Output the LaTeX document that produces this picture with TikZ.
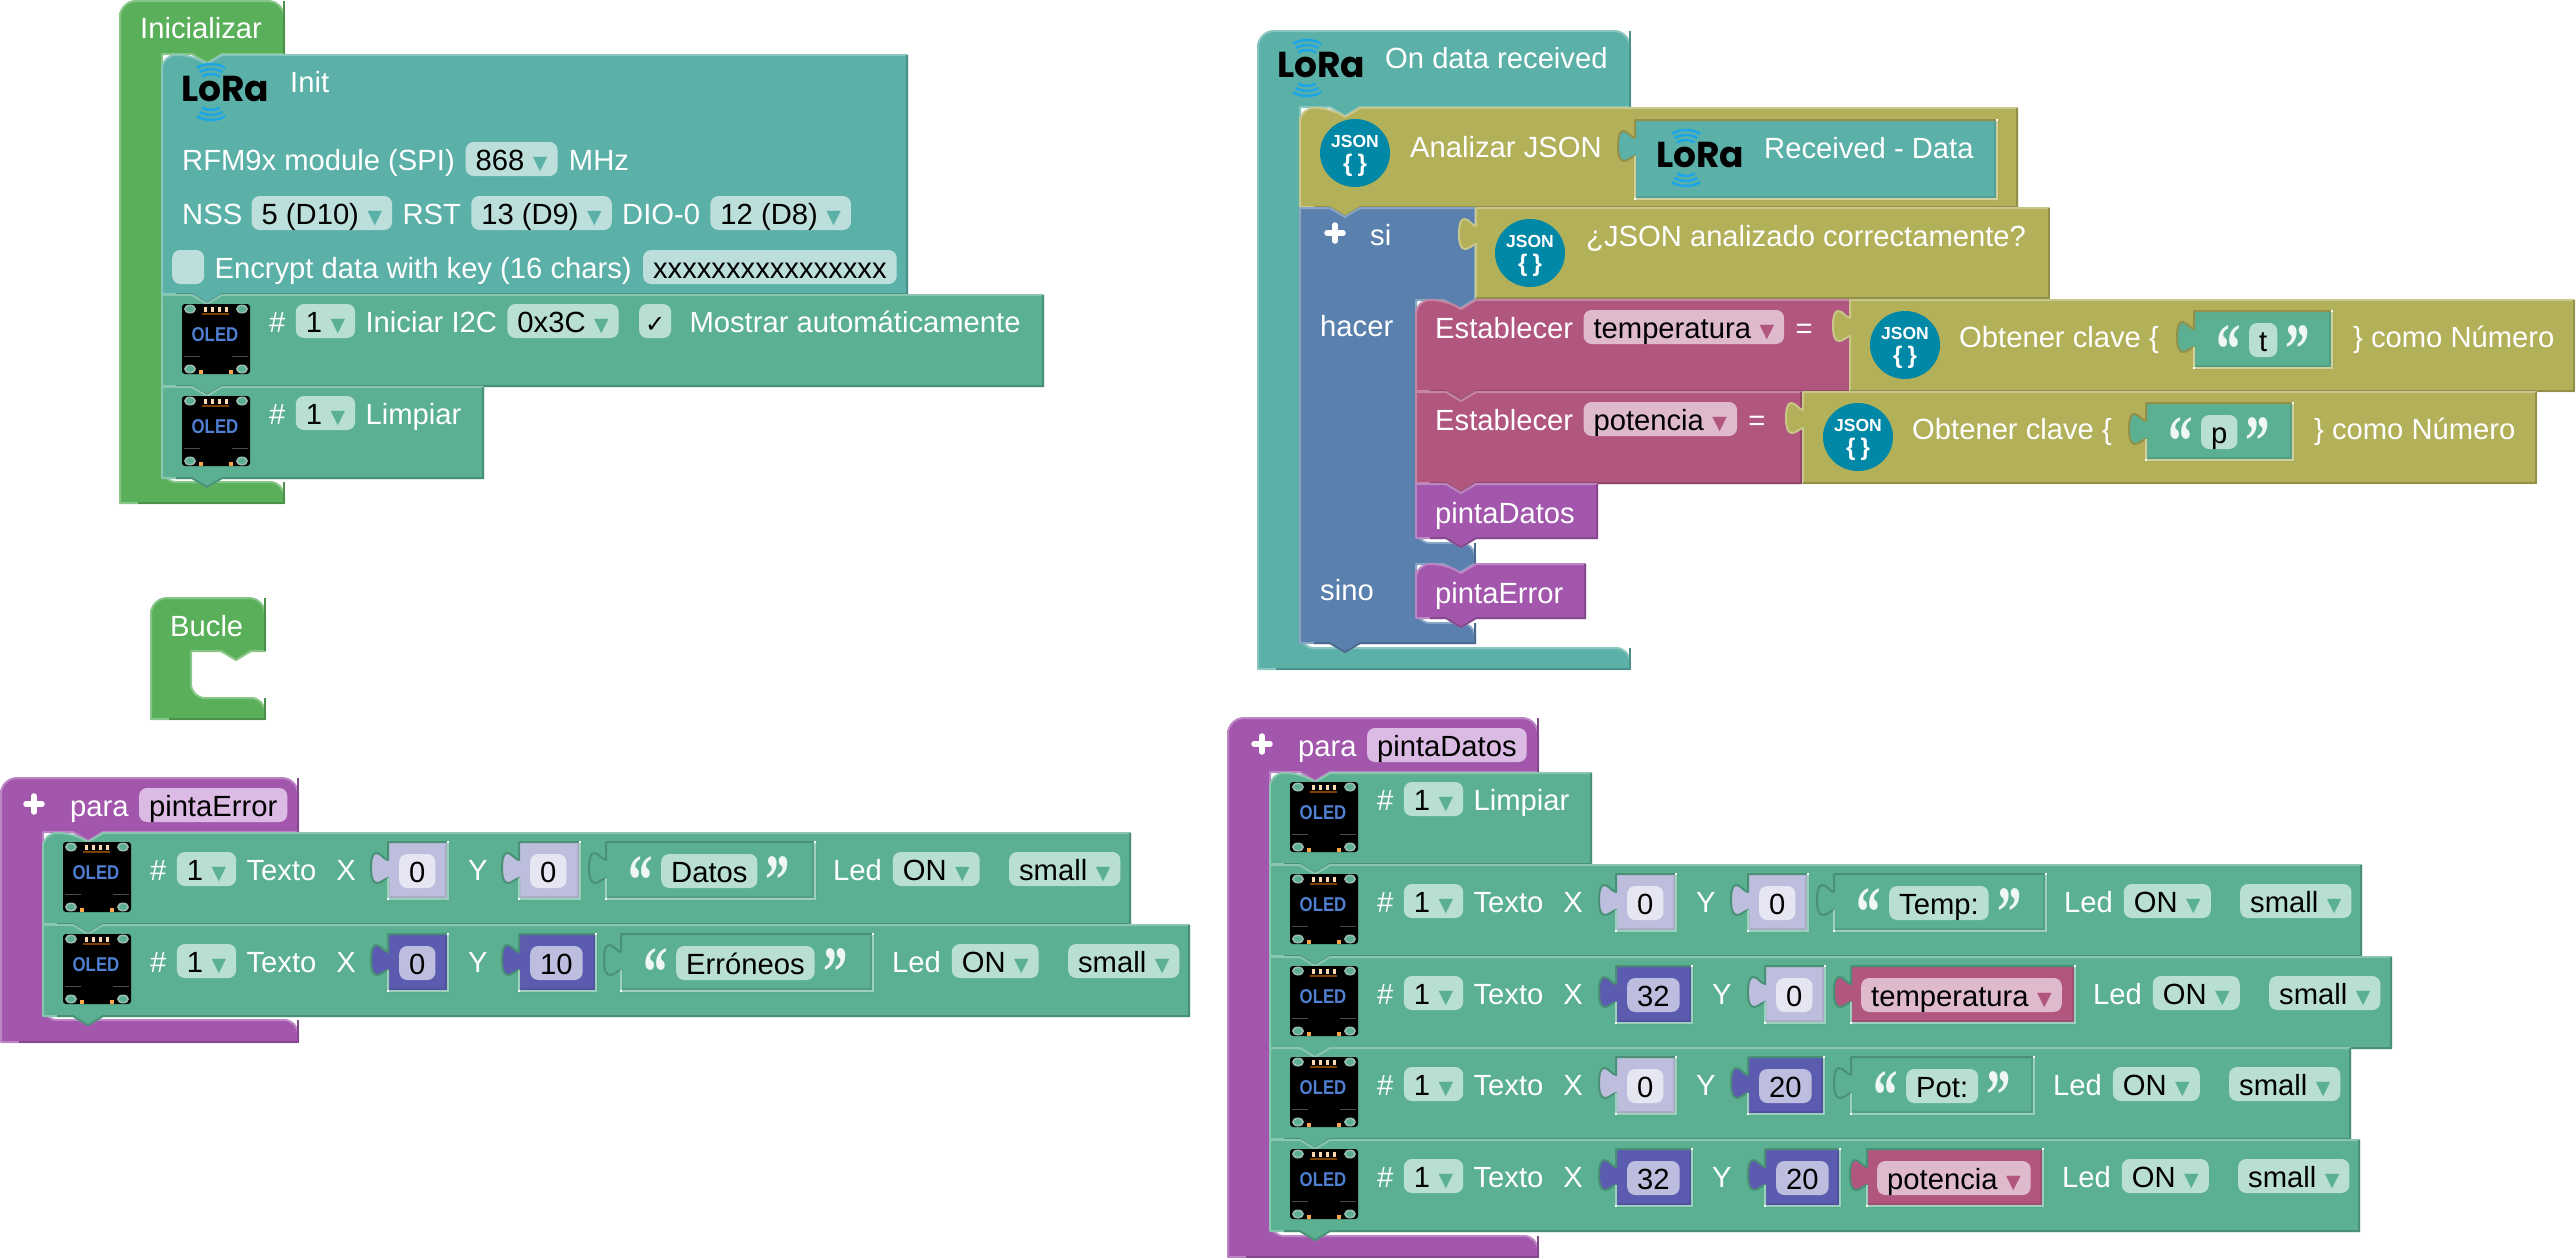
\documentclass[tikz,border=0pt]{standalone}
\usepackage{fontspec}
\usepackage{graphicx}
\usepackage{xcolor}
\usetikzlibrary{positioning}
\setmainfont{Liberation Sans}
\newfontfamily\glyphfont{DejaVu Sans}
\newfontfamily\logofont{Poppins}
\newfontfamily\quotefont{Liberation Serif}

\definecolor{hatgreen}{HTML}{5AB05A}
\definecolor{loratal}{HTML}{5BB0A8}
\definecolor{rowgreen}{HTML}{5AB091}
\definecolor{procpurple}{HTML}{A257AD}
\definecolor{varpink}{HTML}{B0567F}
\definecolor{ifblue}{HTML}{5A80AE}
\definecolor{jsonolive}{HTML}{B3B05A}
\definecolor{numlbody}{HTML}{BDBEDD}
\definecolor{numlfield}{HTML}{E6E6F3}
\definecolor{numdbody}{HTML}{5B5BB0}
\definecolor{numdfield}{HTML}{BDBDDF}
\definecolor{tealfield}{HTML}{BCDFDB}
\definecolor{rowfield}{HTML}{B9DFD1}
\definecolor{procfield}{HTML}{DBBBE3}
\definecolor{pinkfield}{HTML}{DFB9CC}
\definecolor{jsonblue}{HTML}{0088A6}
\definecolor{lorablue}{HTML}{1EA5E8}
\definecolor{oledblue}{HTML}{4F7FD0}

\newcommand{\blockfont}{\fontsize{29.2}{32}\selectfont}

\tikzset{
    lbl/.style={inner sep=0pt, text=white, font=\blockfont},
    fld/.style={fill=#1, rounded corners=8pt, inner xsep=10pt, inner ysep=0pt, text height=28pt, text depth=6pt, text=black, font=\blockfont},
    blockedge/.style={draw=#1!72!white, fill=#1, line width=2pt, line join=round},
    blockshade/.style={draw=#1!82!black, line width=2pt},
    quot/.style={inner sep=0pt, text=white!90!rowgreen, font=\quotefont\bfseries\fontsize{72}{72}\selectfont}
}

% text with the little triangle of a dropdown
\newcommand{\ddfield}[2]{#1\hspace{8.5pt}{\color{#2}\glyphfont\fontsize{19}{19}\selectfont\raisebox{0.5pt}{▼}}}

% left side of a plugged block, going down: x, y
\newcommand{\tabpath}[2]{-- ({#1},{#2+18}) .. controls ({#1-5},{#2+17}) and ({#1-7},{#2+11}) .. ({#1-12},{#2+11}) .. controls ({#1-15},{#2+11}) and ({#1-17},{#2+16}) .. ({#1-17},{#2+26}) .. controls ({#1-17},{#2+36}) and ({#1-15},{#2+41}) .. ({#1-11},{#2+41}) .. controls ({#1-7},{#2+41}) and ({#1-4},{#2+37}) .. ({#1},{#2+36})}

% stack block: colour, x1, y1, x2, y2, top left radius, bottom left radius
\newcommand{\stackblock}[7]{
    \draw[blockedge=#1] ({#2},{#3+20}) [rounded corners=#6] -- ({#2},{#3}) -- ({#2+30},{#3}) [sharp corners] -- ({#2+45},{#3+9}) -- ({#2+60},{#3}) -- ({#4},{#3}) -- ({#4},{#5}) -- ({#2+60},{#5}) -- ({#2+45},{#5+9}) -- ({#2+30},{#5}) -- ({#2},{#5}) [rounded corners=#7] -- cycle;
    \draw[blockshade=#1] ({#4},{#3}) -- ({#4},{#5}) -- ({#2+60},{#5}) -- ({#2+45},{#5+9}) -- ({#2+30},{#5}) -- ({#2+14},{#5});
}

% C shaped block: colour, x1, y1, inner x, x2, header bottom, bar top, y2
\newcommand{\cblock}[8]{
    \draw[blockedge=#1] (#2,{#3+30}) [rounded corners=16pt] -- (#2,#3) -- (#5,#3) [sharp corners] -- (#5,#6) -- ({#4+60},#6) -- ({#4+45},{#6+9}) -- ({#4+30},#6) -- (#4,#6) [rounded corners=14pt] -- (#4,#7) -- (#5,#7) [sharp corners] -- (#5,#8) -- (#2,#8) [rounded corners=18pt] -- cycle;
    \draw[blockshade=#1] (#5,#3) -- (#5,#6);
    \draw[blockshade=#1] (#5,#7) -- (#5,#8) -- ({#2+18},#8);
}

% long block joined to the right of another: x1, y1, x2, y2, colour
\newcommand{\sideblock}[5]{
    \draw[blockedge=#5] ({#1},{#2}) \tabpath{#1}{#2} -- ({#1},{#4}) -- ({#3},{#4}) -- ({#3},{#2}) -- cycle;
    \draw[blockshade=#5] ({#3},{#2}) -- ({#3},{#4}) -- ({#1},{#4});
}

% block in a socket: x1, y1, x2, y2, fill, parent colour
\newcommand{\plug}[6]{
    \draw[fill=#5, draw=#6!82!black, line width=2pt, line join=round] ({#1},{#2}) \tabpath{#1}{#2} -- ({#1},{#4}) -- ({#3},{#4}) -- ({#3},{#2}) -- cycle;
    \draw[#6!60!white, line width=2pt] ({#1},{#2+36}) -- ({#1},{#4}) -- ({#3},{#4}) -- ({#3},{#2});
    \draw[#5!90!black, line width=1.5pt] ({#3-2},{#2+2}) -- ({#3-2},{#4-2}) -- ({#1+2},{#4-2});
    \fill[white] ({#3-1},{#2-1}) rectangle ({#3+1},{#2+1});
    \fill[white] ({#1-1},{#4-1}) rectangle ({#1+1},{#4+1});
}

% number block: name, x1, x2, row top, text, numl or numd
\newcommand{\numplug}[6]{
    \plug{#2}{(#4+10)}{#3}{(#4+67)}{#6body}{rowgreen}
    \node[fld=#6field, anchor=base west] (#1) at ({#2+11},{#4+50}) {#5};
}

% variable block: name, x1, x2, row top, text
\newcommand{\varplug}[5]{
    \plug{#2}{(#4+10)}{#3}{(#4+67)}{varpink}{rowgreen}
    \node[fld=pinkfield, anchor=base west] (#1) at ({#2+10},{#4+50}) {\ddfield{#5}{varpink}};
}

% text block: name, x1, x2, plug top, text, parent colour
\newcommand{\strplug}[6]{
    \plug{#2}{#4}{#3}{(#4+57)}{rowgreen}{#6}
    \node[fld=rowfield, anchor=base west] (#1) at ({#2+55},{#4+40}) {#5};
    \node[quot, anchor=base east] (#1open) at ([xshift=-8pt,yshift=-22pt]#1.base west) {\scalebox{.68}[1]{“}};
    \node[quot, anchor=base west] (#1close) at ([xshift=8pt,yshift=-22pt]#1.base east) {\scalebox{.68}[1]{”}};
}

% logos: name, left, top
\newcommand{\loralogo}[3]{
    \foreach \r in {18,23,28} {
        \draw[lorablue, line width=2.5pt] ({#2+30+\r*cos(60)},{#3+28-\r*sin(60)}) arc[start angle=-60, end angle=-120, radius=\r];
        \draw[lorablue, line width=2.5pt] ({#2+30+\r*cos(60)},{#3+28+\r*sin(60)}) arc[start angle=60, end angle=120, radius=\r];
    }
    \node[inner sep=0pt, anchor=base west, text=black, font=\logofont\bfseries\fontsize{36}{36}\selectfont] (#1) at (#2,{#3+37}) {LoRa};
}
\newcommand{\oledicon}[3]{
    \fill[black, rounded corners=3pt] ({#2},{#3}) rectangle ({#2+68},{#3+70});
    \foreach \cx/\cy in {8/5, 60/5, 8/65, 60/65} {
        \fill[black!15!rowfield] ({#2+\cx},{#3+\cy}) ellipse (6 and 4.5);
        \fill[rowgreen] ({#2+\cx},{#3+\cy}) ellipse (4 and 3);
    }
    \foreach \cx in {22,29,36,43} {
        \fill[orange!30!white] ({#2+\cx},{#3+3}) rectangle ({#2+\cx+3},{#3+8});
    }
    \fill[orange!50!black] ({#2+20},{#3+9}) rectangle ({#2+47},{#3+10.5});
    \fill[black!70!white] ({#2+2},{#3+52}) rectangle ({#2+18},{#3+53});
    \fill[black!70!white] ({#2+50},{#3+52}) rectangle ({#2+66},{#3+53});
    \fill[orange!70!white] ({#2+17},{#3+66}) rectangle ({#2+21},{#3+70});
    \fill[orange!70!white] ({#2+47},{#3+66}) rectangle ({#2+51},{#3+70});
    \node[inner sep=0pt, text=oledblue, font=\bfseries\fontsize{20}{20}\selectfont] (#1) at ({#2+33},{#3+31}) {\scalebox{.84}[1]{OLED}};
}
\newcommand{\jsonicon}[3]{
    \fill[jsonblue] (#2,#3) ellipse (35 and 34);
    \node[inner sep=0pt, text=white, font=\bfseries\fontsize{17.5}{18}\selectfont] (#1) at (#2,{#3-12}) {JSON};
    \node[inner sep=0pt, text=white, font=\bfseries\fontsize{24}{24}\selectfont] (#1b) at (#2,{#3+12}) {\{\hspace{5pt}\}};
}
\newcommand{\plusicon}[2]{
    \draw[white, line width=5.5pt, line cap=round] ({#1-8},#2) -- ({#1+8},#2);
    \draw[white, line width=5.5pt, line cap=round] (#1,{#2-8}) -- (#1,{#2+8});
}

% start of the display rows: name, x1, icon top, baseline
\newcommand{\oledhead}[4]{
    \oledicon{#1icon}{(#2+20)}{#3}
    \node[lbl, anchor=base west] (#1hash) at ({#2+107},{#4}) {\#};
    \node[fld=rowfield, base right=10pt of #1hash] (#1num) {\ddfield{1}{rowgreen}};
}
% clear row: name, x1, top, x2, top left radius, bottom left radius
\newcommand{\limpiarrow}[6]{
    \stackblock{rowgreen}{#2}{(#3+1)}{#4}{(#3+92)}{#5}{#6}
    \oledhead{#1}{#2}{(#3+10)}{(#3+38)}
    \node[lbl, base right=10pt of #1num] (#1word) {Limpiar};
}
% text row: name, x1, top, x2, top left radius, bottom left radius
\newcommand{\textrow}[6]{
    \stackblock{rowgreen}{#2}{(#3+1)}{#4}{(#3+92)}{#5}{#6}
    \oledhead{#1}{#2}{(#3+10)}{(#3+48)}
    \node[lbl, base right=10pt of #1num] (#1word) {Texto};
    \node[lbl, base right=19.5pt of #1word] (#1x) {X};
}
% end of the text rows: name, x of Led, row top
\newcommand{\ledtail}[3]{
    \node[lbl, anchor=base west] (#1led) at (#2,{#3+48}) {Led};
    \node[fld=rowfield, base right=10.5pt of #1led] (#1on) {\ddfield{ON}{rowgreen}};
    \node[fld=rowfield, base right=29pt of #1on] (#1size) {\ddfield{small}{rowgreen}};
}

\begin{document}
\begin{tikzpicture}[x=1pt, y=-1pt]
    \useasboundingbox (0,0) rectangle (2576,1258);

    % Inicializar
    \cblock{hatgreen}{120}{1}{162}{284}{54}{482}{503}
    \node[lbl, anchor=base west] (inicializar) at (140,38) {Inicializar};
    \stackblock{loratal}{162}{55}{907}{294}{14pt}{0pt}
    \loralogo{initlogo}{181}{64}
    \node[lbl, anchor=base west] (init) at (290,92) {Init};
    \node[lbl, anchor=base west] (rfm) at (182,170) {RFM9x module (SPI)};
    \node[fld=tealfield, base right=10.5pt of rfm] (freq) {\ddfield{868}{loratal}};
    \node[lbl, base right=11pt of freq] (mhz) {MHz};
    \node[lbl, anchor=base west] (nss) at (182,224) {NSS};
    \node[fld=tealfield, base right=9pt of nss] (nsspin) {\ddfield{5 (D10)}{loratal}};
    \node[lbl, base right=10pt of nsspin] (rst) {RST};
    \node[fld=tealfield, base right=10pt of rst] (rstpin) {\ddfield{13 (D9)}{loratal}};
    \node[lbl, base right=10pt of rstpin] (dio) {DIO-0};
    \node[fld=tealfield, base right=10pt of dio] (diopin) {\ddfield{12 (D8)}{loratal}};
    \node[fld=tealfield, minimum width=32pt, inner xsep=0pt, anchor=base west] (encbox) at (172,278) {};
    \node[lbl, base right=10pt of encbox] (enc) {Encrypt data with key (16 chars)};
    \node[fld=tealfield, base right=11pt of enc] (key) {xxxxxxxxxxxxxxxx};
    \stackblock{rowgreen}{162}{295}{1043}{386}{0pt}{0pt}
    \oledhead{start}{162}{304}{332}
    \node[lbl, base right=10pt of startnum] (startword) {Iniciar I2C};
    \node[fld=rowfield, base right=10pt of startword] (addr) {\ddfield{0x3C}{rowgreen}};
    \node[fld=rowfield, minimum width=32pt, inner xsep=0pt, base right=20pt of addr] (autobox) {\glyphfont\fontsize{24}{24}\selectfont ✓};
    \node[lbl, base right=18pt of autobox] (auto) {Mostrar automáticamente};
    \limpiarrow{clear}{162}{386}{483}{0pt}{14pt}

    % Bucle
    \cblock{hatgreen}{151}{598}{191}{265}{651}{698}{719}
    \node[lbl, anchor=base west] (bucle) at (170,636) {Bucle};

    % pintaError
    \cblock{procpurple}{1}{778}{43}{298}{832}{1020}{1042}
    \plusicon{34}{804}
    \node[lbl, anchor=base west] (paraerr) at (70,816) {para};
    \node[fld=procfield, base right=10pt of paraerr] (errname) {pintaError};

    \textrow{ea}{43}{832}{1130}{14pt}{0pt}
    \numplug{eax}{388}{448}{832}{0}{numl}
    \node[lbl, anchor=base west] (eay) at (468,880) {Y};
    \numplug{eayv}{519}{580}{832}{0}{numl}
    \strplug{eas}{606}{815}{842}{Datos}{rowgreen}
    \ledtail{ea}{833}{832}

    \textrow{eb}{43}{924}{1189}{0pt}{14pt}
    \numplug{ebx}{388}{448}{924}{0}{numd}
    \node[lbl, anchor=base west] (eby) at (468,972) {Y};
    \numplug{ebyv}{519}{596}{924}{10}{numd}
    \strplug{ebs}{621}{873}{934}{Erróneos}{rowgreen}
    \ledtail{eb}{892}{924}

    % On data received
    \cblock{loratal}{1258}{31}{1300}{1630}{107}{648}{669}
    \loralogo{datalogo}{1277}{40}
    \node[lbl, anchor=base west] (ondata) at (1385,68) {On data received};

    \stackblock{jsonolive}{1300}{108}{2017}{207}{14pt}{0pt}
    \jsonicon{parseicon}{1355}{153}
    \node[lbl, anchor=base west] (parse) at (1410,157) {Analizar JSON};
    \plug{1635}{120}{1997}{199}{loratal}{jsonolive}
    \loralogo{reclogo}{1656}{130}
    \node[lbl, anchor=base west] (recdata) at (1764,158) {Received - Data};

    % si / hacer / sino
    \draw[blockedge=ifblue] (1300,300) -- (1300,208) -- (1330,208) -- (1345,217) -- (1360,208) -- (1475,208) -- (1475,300) -- (1474,300) -- (1459,309) -- (1444,300) -- (1416,300) [rounded corners=14pt] -- (1416,543) -- (1475,543) [sharp corners] -- (1475,564) -- (1474,564) -- (1459,573) -- (1444,564) -- (1416,564) [rounded corners=14pt] -- (1416,623) -- (1475,623) [sharp corners] -- (1475,643) -- (1360,643) -- (1345,652) -- (1330,643) -- (1300,643) [rounded corners=14pt] -- cycle;
    \draw[blockshade=ifblue] (1475,623) -- (1475,643) -- (1360,643) -- (1345,652) -- (1330,643) -- (1314,643);
    \draw[blockshade=ifblue] (1475,543) -- (1475,564);
    \plusicon{1335}{233}
    \node[lbl, anchor=base west] (si) at (1370,245) {si};
    \node[lbl, anchor=base west] (hacer) at (1320,336) {hacer};
    \node[lbl, anchor=base west] (sino) at (1320,600) {sino};

    \sideblock{1476}{208}{2049}{298}{jsonolive}
    \jsonicon{okicon}{1530}{253}
    \node[lbl, anchor=base west] (okword) at (1586,246) {¿JSON analizado correctamente?};

    % Establecer temperatura
    \stackblock{varpink}{1416}{300}{1850}{391}{14pt}{0pt}
    \node[lbl, anchor=base west] (settemp) at (1435,338) {Establecer};
    \node[fld=pinkfield, base right=10pt of settemp] (tempvar) {\ddfield{temperatura}{varpink}};
    \node[lbl, base right=11pt of tempvar] (tempeq) {=};
    \sideblock{1850}{300}{2574}{391}{jsonolive}
    \jsonicon{tempicon}{1905}{345}
    \node[lbl, anchor=base west] (tempget) at (1959,347) {Obtener clave \{};
    \strplug{tkey}{2194}{2332}{311}{t}{jsonolive}
    \node[lbl, anchor=base west] (tempnum) at (2353,347) {\} como Número};

    % Establecer potencia
    \stackblock{varpink}{1416}{392}{1801}{483}{0pt}{0pt}
    \node[lbl, anchor=base west] (setpot) at (1435,430) {Establecer};
    \node[fld=pinkfield, base right=10pt of setpot] (potvar) {\ddfield{potencia}{varpink}};
    \node[lbl, base right=11pt of potvar] (poteq) {=};
    \sideblock{1803}{392}{2536}{483}{jsonolive}
    \jsonicon{poticon}{1858}{437}
    \node[lbl, anchor=base west] (potget) at (1912,439) {Obtener clave \{};
    \strplug{pkey}{2146}{2293}{403}{p}{jsonolive}
    \node[lbl, anchor=base west] (potnum) at (2314,439) {\} como Número};

    % llamadas
    \stackblock{procpurple}{1416}{484}{1597}{538}{0pt}{14pt}
    \node[lbl, anchor=base west] (calldatos) at (1435,523) {pintaDatos};
    \stackblock{procpurple}{1416}{564}{1585}{618}{14pt}{14pt}
    \node[lbl, anchor=base west] (callerror) at (1435,603) {pintaError};

    % pintaDatos
    \cblock{procpurple}{1228}{718}{1270}{1538}{772}{1236}{1257}
    \plusicon{1262}{744}
    \node[lbl, anchor=base west] (paradat) at (1298,756) {para};
    \node[fld=procfield, base right=10pt of paradat] (datname) {pintaDatos};

    \limpiarrow{da}{1270}{772}{1591}{14pt}{0pt}

    \textrow{db}{1270}{864}{2361}{0pt}{0pt}
    \numplug{dbx}{1616}{1676}{864}{0}{numl}
    \node[lbl, anchor=base west] (dby) at (1696,912) {Y};
    \numplug{dbyv}{1748}{1808}{864}{0}{numl}
    \strplug{dbs}{1834}{2046}{874}{Temp:}{rowgreen}
    \ledtail{db}{2064}{864}

    \textrow{dc}{1270}{956}{2391}{0pt}{0pt}
    \numplug{dcx}{1616}{1692}{956}{32}{numd}
    \node[lbl, anchor=base west] (dcy) at (1712,1004) {Y};
    \numplug{dcyv}{1765}{1825}{956}{0}{numl}
    \varplug{dcv}{1851}{2075}{956}{temperatura}
    \ledtail{dc}{2093}{956}

    \textrow{dd}{1270}{1047}{2350}{0pt}{0pt}
    \numplug{ddx}{1616}{1676}{1047}{0}{numl}
    \node[lbl, anchor=base west] (ddy) at (1696,1095) {Y};
    \numplug{ddyv}{1748}{1824}{1047}{20}{numd}
    \strplug{dds}{1851}{2034}{1057}{Pot:}{rowgreen}
    \ledtail{dd}{2053}{1047}

    \textrow{de}{1270}{1139}{2359}{0pt}{14pt}
    \numplug{dex}{1616}{1692}{1139}{32}{numd}
    \node[lbl, anchor=base west] (dey) at (1712,1187) {Y};
    \numplug{deyv}{1765}{1840}{1139}{20}{numd}
    \varplug{dev}{1867}{2043}{1139}{potencia}
    \ledtail{de}{2062}{1139}
\end{tikzpicture}
\end{document}
